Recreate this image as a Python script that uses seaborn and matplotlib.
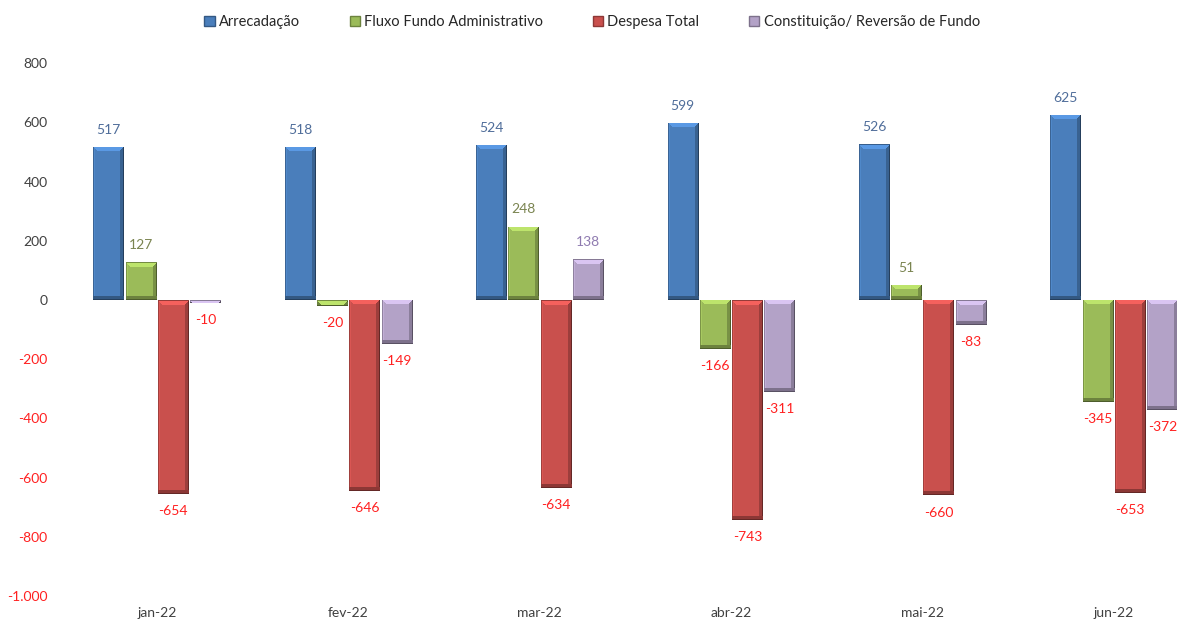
import numpy as np
import pandas as pd
import matplotlib
matplotlib.use("Agg")
import matplotlib.pyplot as plt
import matplotlib.colors as mcolors
from matplotlib.patches import Patch
from matplotlib.ticker import FuncFormatter
import seaborn as sns

meses = ["jan-22", "fev-22", "mar-22", "abr-22", "mai-22", "jun-22"]
series = ["Arrecadação", "Fluxo Fundo Administrativo", "Despesa Total",
          "Constituição/ Reversão de Fundo"]
arrecadacao = [517, 518, 524, 599, 526, 625]
fluxo_fundo = [127, -20, 248, -166, 51, -345]
despesa_total = [-654, -646, -634, -743, -660, -653]
constituicao = [-10, -149, 138, -311, -83, -372]

cores = ["#4A7EBB", "#9BBB59", "#C9504D", "#B3A2C7"]
cores_rotulo = ["#4F6D9A", "#7A8450", "#FF2020", "#8F7BB0"]
cor_negativo = "#FF2020"

df = pd.DataFrame({
    "mes": meses * 4,
    "serie": np.repeat(series, len(meses)),
    "valor": arrecadacao + fluxo_fundo + despesa_total + constituicao,
})

sns.set_style("white")
plt.rcParams["font.family"] = ["Lato", "DejaVu Sans"]

fig = plt.figure(figsize=(11.77, 6.19), dpi=100)
ax = fig.add_axes([0.051, 0.037, 0.949, 0.861])

sns.barplot(data=df, x="mes", y="valor", hue="serie", order=meses,
            hue_order=series, palette=cores, saturation=1, width=0.675,
            gap=0.06, errorbar=None, legend=False, ax=ax)

ax.set_xlim(-0.507, 5.33)
ax.set_ylim(-1000, 800)
ax.set_yticks(range(-1000, 801, 200))
ax.yaxis.set_major_formatter(FuncFormatter(lambda v, p: f"{int(v):,}".replace(",", ".")))
for lbl, v in zip(ax.get_yticklabels(), ax.get_yticks()):
    lbl.set_color(cor_negativo if v < 0 else "#404040")
ax.tick_params(axis="y", length=0, pad=9, labelsize=10)
ax.tick_params(axis="x", length=0, pad=8, labelsize=10, labelcolor="#404040")
ax.set_xlabel("")
ax.set_ylabel("")
sns.despine(ax=ax, left=True, bottom=True)
ax.grid(False)

fig.canvas.draw()


def bevel_image(cor, w, h):
    # imitate the Excel bevel look of the bars
    rgb = np.array(mcolors.to_rgb(cor))
    w = max(int(round(w)), 2)
    h = max(int(round(h)), 2)
    m = np.ones((h, w))
    b = 4
    m[:, :1] = 0.8
    m[:, 1:2] = 1.08
    m[:, w - b:] = 0.78
    m[:, w - 1:] = 0.5
    m[h - b:, :] = 0.7
    m[h - 1:, :] = 0.5
    m[0, :] = 0.75
    for r in range(1, min(b + 1, h)):
        m[r, r:w - r] = 1.22
    img = np.clip(rgb[None, None, :] * m[:, :, None], 0, 1)
    return img


for cont, cor, cor_lbl in zip(ax.containers, cores, cores_rotulo):
    for bar, v in zip(cont, cont.datavalues):
        bar.set_edgecolor("none")
        x0, y0 = bar.get_x(), bar.get_y()
        bw, bh = bar.get_width(), bar.get_height()
        ylo, yhi = min(y0, y0 + bh), max(y0, y0 + bh)
        p0 = ax.transData.transform((x0, ylo))
        p1 = ax.transData.transform((x0 + bw, yhi))
        img = bevel_image(cor, p1[0] - p0[0], p1[1] - p0[1])
        im = ax.imshow(img, extent=(x0, x0 + bw, ylo, yhi), aspect="auto",
                       interpolation="nearest", zorder=3)
        im.set_clip_path(bar)
        xc = x0 + bw / 2
        if v >= 0:
            ax.annotate(f"{v:g}", (xc, v), xytext=(0, 8), textcoords="offset points",
                        ha="center", va="bottom", fontsize=10, color=cor_lbl)
        else:
            ax.annotate(f"{v:g}", (xc, v), xytext=(0, -8), textcoords="offset points",
                        ha="center", va="top", fontsize=10, color=cor_negativo)

ax.set_xlim(-0.507, 5.33)
ax.set_ylim(-1000, 800)

handles = [Patch(facecolor=c, edgecolor=mcolors.to_hex(np.array(mcolors.to_rgb(c)) * 0.7))
           for c in cores]
fig.legend(handles, series, loc="center", bbox_to_anchor=(0.503, 0.964), ncol=4,
           frameon=False, fontsize=10.5, handlelength=0.7, handleheight=0.7,
           handletextpad=0.3, columnspacing=3.4)

fig.savefig("out.png", dpi=100)
